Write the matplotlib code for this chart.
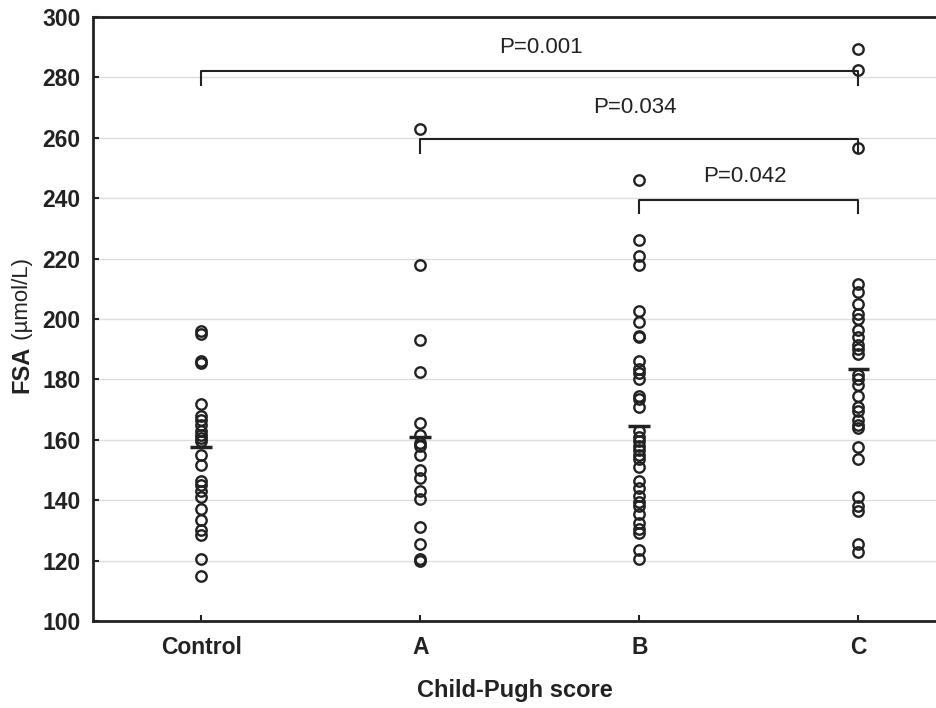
import numpy as np
import matplotlib.pyplot as plt

plt.rcParams['font.family'] = ['Liberation Sans', 'DejaVu Sans']

groups = ['Control', 'A', 'B', 'C']

# FSA values (umol/L)
control = [196, 195, 186, 185.5, 172, 168, 166.5, 165, 163, 161.5, 160.5, 159.5,
           155, 151.5, 146.5, 145, 143, 141, 137, 133.5, 130, 128.5, 120.5, 115]
score_a = [263, 218, 193, 182.5, 165.5, 161.5, 159, 158, 155, 150, 147.5, 143,
           140.5, 131, 125.5, 120.5, 120]
score_b = [246, 226, 221, 218, 202.5, 199, 194.5, 194, 186, 183.5, 182, 180,
           174.5, 173.5, 171, 163, 161, 159.5, 158, 156.5, 155, 153.5, 151, 146.5,
           144, 141.5, 139.5, 138, 135.5, 132.5, 130.5, 129, 123.5, 120.5]
score_c = [289.5, 282.5, 256.5, 211.5, 209, 205, 201.5, 200, 196.5, 194, 191.5,
           190, 188.5, 181.5, 180, 178, 174.5, 171, 169.5, 166.5, 165, 164, 157.5,
           153.5, 141, 138, 136.5, 125.5, 123]
means = [157.5, 161, 164.5, 183.5]

# significance brackets
pairs = [(0, 3), (1, 3), (2, 3)]
p_labels = ['P=0.001', 'P=0.034', 'P=0.042']
bracket_y = [282, 259.5, 239.5]
label_x = [1.55, 1.98, 2.48]
label_y = [289.8, 269.9, 247.2]

dark = '#222222'

fig = plt.figure(figsize=(9.36, 7.08), dpi=100)
ax = fig.add_axes([93/936, 87/708, 843/936, 604/708])

for i, vals in enumerate([control, score_a, score_b, score_c]):
    ax.plot(np.full(len(vals), i), vals, 'o', mfc='none', mec=dark, ms=7.5, mew=1.7, zorder=3)

pos = np.arange(len(groups))
ax.hlines(means, pos - 0.05, pos + 0.05, color=dark, lw=2.5, zorder=4)

for (x0, x1), y, txt, tx, ty in zip(pairs, bracket_y, p_labels, label_x, label_y):
    ax.plot([x0, x0, x1, x1], [y - 4.5, y, y, y - 4.5], color=dark, lw=1.5, zorder=2)
    ax.text(tx, ty, txt, ha='center', va='center', fontsize=16, color=dark)

ax.set_xlim(-0.495, 3.354)
ax.set_ylim(100, 300)
ax.set_xticks(pos)
ax.set_xticklabels(groups)
ax.set_yticks(range(100, 301, 20))
ax.grid(axis='y', color='#dddddd', lw=1)
ax.set_axisbelow(True)

ax.spines['right'].set_visible(False)
for s in ['left', 'bottom', 'top']:
    ax.spines[s].set_linewidth(2)
    ax.spines[s].set_color(dark)

ax.tick_params(axis='y', direction='in', length=4, width=1.5, labelsize=16.5, pad=9, colors=dark)
ax.tick_params(axis='x', direction='in', length=4, width=1.5, labelsize=16.5, pad=11, colors=dark)
for lbl in ax.get_xticklabels() + ax.get_yticklabels():
    lbl.set_fontweight('bold')

ax.set_xlabel('Child-Pugh score', fontsize=17, fontweight='bold', labelpad=14, color=dark)

# y label: bold "FSA" followed by plain unit
ax.text(-0.084, (621 - 346) / 604, 'FSA', transform=ax.transAxes, rotation=90,
        rotation_mode='anchor', ha='right', va='center', fontsize=17, fontweight='bold', color=dark)
ax.text(-0.084, (621 - 346) / 604, ' (\u00b5mol/L)', transform=ax.transAxes, rotation=90,
        rotation_mode='anchor', ha='left', va='center', fontsize=16, color=dark)

fig.savefig('out.png', dpi=100)
